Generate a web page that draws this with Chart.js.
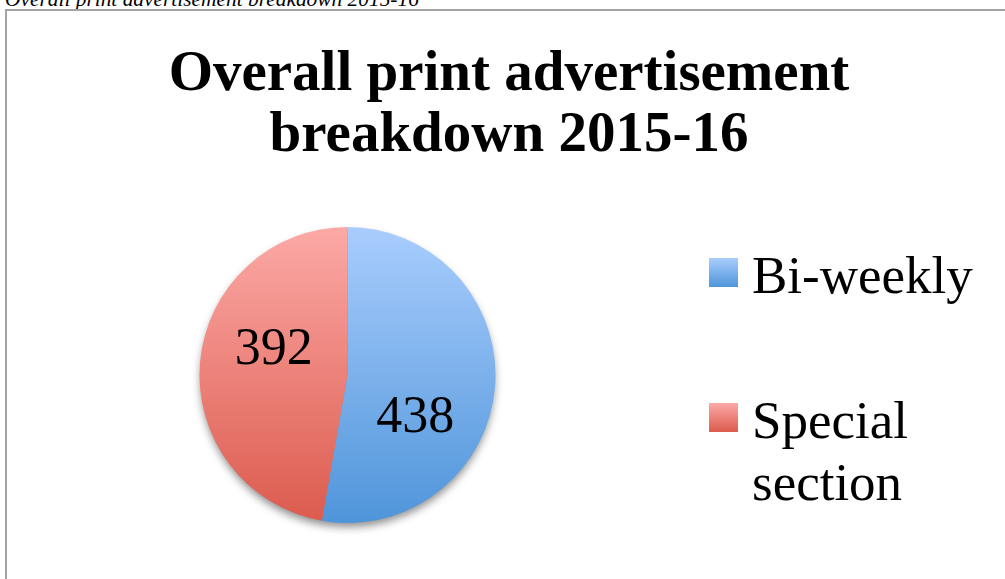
<!DOCTYPE html>
<html>
<head>
<meta charset="utf-8">
<script src="https://cdn.jsdelivr.net/npm/chart.js@4"></script>
<style>
  html, body { margin: 0; padding: 0; background: #fff; overflow: hidden; }
  body { width: 1005px; height: 579px; position: relative; }
  #caption {
    position: absolute; left: 5px; top: -13px;
    font: italic 21.4px "Liberation Serif", serif; color: #000; white-space: nowrap;
  }
  #frame {
    position: absolute; left: 5px; top: 9px; width: 1100px; height: 700px;
    border-left: 2px solid #a3a3a3; border-top: 2px solid #a3a3a3;
  }
  #title {
    position: absolute; left: 8px; width: 1002px; top: 40px; text-align: center;
    font: bold 57px/61px "Liberation Serif", serif; color: #000;
  }
  #legend { position: absolute; left: 709px; top: 0; }
  .item { position: absolute; left: 0; white-space: nowrap; }
  .box { position: absolute; left: 0; width: 29px; height: 29px; }
  .txt { position: absolute; left: 43px; font: 53px/62px "Liberation Serif", serif; color: #000; }
  #wrap { position: absolute; left: 0; top: 0; width: 1005px; height: 579px; }
</style>
</head>
<body>
<div id="caption">Overall print advertisement breakdown 2015-16</div>
<div id="frame"></div>
<div id="title">Overall print advertisement<br>breakdown 2015-16</div>
<div id="wrap"><canvas id="pieChart"></canvas></div>
<div id="legend"></div>
<script>
const categories = ['Bi-weekly', 'Special section'];
const legendLines = [['Bi-weekly'], ['Special', 'section']];
const adCounts = [438, 392];

// top and bottom colour of each slice's vertical gradient
const sliceTop = ['#a9cdfd', '#fca9a6'];
const sliceBottom = ['#4f95da', '#dc5b4e'];

function sliceFill(context) {
    const area = context.chart.chartArea;
    if (!area) return sliceBottom[context.dataIndex];
    const g = context.chart.ctx.createLinearGradient(0, area.top, 0, area.bottom);
    g.addColorStop(0, sliceTop[context.dataIndex]);
    g.addColorStop(1, sliceBottom[context.dataIndex]);
    return g;
}

// soft drop shadow under the whole pie
const pieShadow = {
    id: 'pieShadow',
    beforeDatasetsDraw(chart) {
        const arc = chart.getDatasetMeta(0).data[0];
        if (!arc) return;
        const ctx = chart.ctx;
        ctx.save();
        ctx.shadowColor = 'rgba(0,0,0,0.45)';
        ctx.shadowBlur = 9;
        ctx.shadowOffsetY = 5;
        ctx.beginPath();
        ctx.arc(arc.x, arc.y, arc.outerRadius - 1, 0, Math.PI * 2);
        ctx.fillStyle = '#888';
        ctx.fill();
        ctx.restore();
    }
};

// value labels inside each slice
const sliceValues = {
    id: 'sliceValues',
    afterDatasetsDraw(chart) {
        const ctx = chart.ctx;
        const values = chart.data.datasets[0].data;
        ctx.save();
        ctx.font = '52px "Liberation Serif", serif';
        ctx.fillStyle = '#000';
        ctx.textAlign = 'center';
        ctx.textBaseline = 'alphabetic';
        chart.getDatasetMeta(0).data.forEach((arc, i) => {
            const mid = (arc.startAngle + arc.endAngle) / 2 + 0.36;
            const r = arc.outerRadius * 0.53;
            // baseline a little below the anchor point
            ctx.fillText(String(values[i]), arc.x + Math.cos(mid) * r - 3, arc.y + Math.sin(mid) * r + 23);
        });
        ctx.restore();
    }
};

const pieCtx = document.getElementById('pieChart').getContext('2d');

const pieChart = new Chart(pieCtx, {
    type: 'pie',
    data: {
        labels: categories,
        datasets: [
            {
                data: adCounts,
                backgroundColor: sliceFill,
                borderWidth: 0
            }
        ]
    },
    options: {
        responsive: true,
        maintainAspectRatio: false,
        animation: false,
        layout: {
            padding: { left: 198, right: 508, top: 227, bottom: 56 }
        },
        plugins: {
            legend: { display: false },
            tooltip: { enabled: false }
        }
    },
    plugins: [pieShadow, sliceValues]
});

// legend on the right, one entry per category
const legendTops = [258, 403];
const legend = document.getElementById('legend');
categories.forEach((name, i) => {
    const item = document.createElement('div');
    item.className = 'item';
    item.style.top = legendTops[i] + 'px';
    const box = document.createElement('div');
    box.className = 'box';
    box.style.background = 'linear-gradient(' + sliceTop[i] + ',' + sliceBottom[i] + ')';
    const txt = document.createElement('div');
    txt.className = 'txt';
    txt.style.top = '-14px';
    txt.innerHTML = legendLines[i].join('<br>');
    item.appendChild(box);
    item.appendChild(txt);
    legend.appendChild(item);
});
</script>
</body>
</html>
